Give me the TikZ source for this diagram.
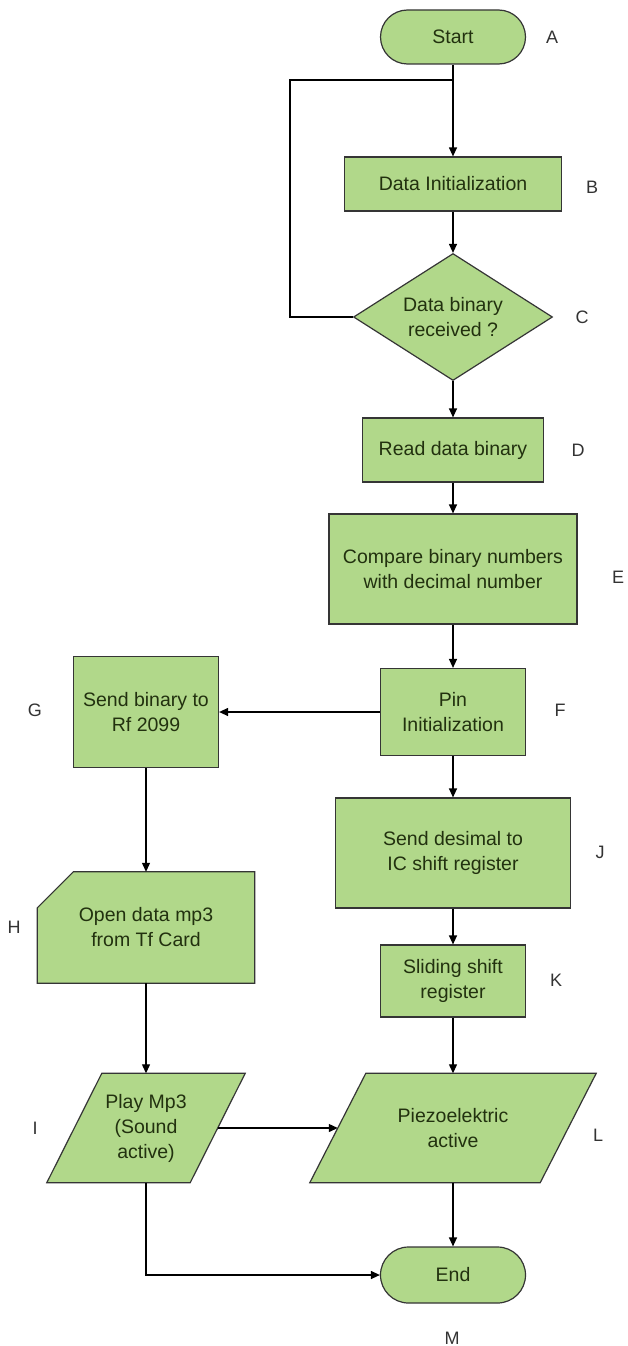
\documentclass[tikz,border=0pt]{standalone}
\usepackage{fontspec}
\setmainfont{Liberation Sans}
\usetikzlibrary{arrows.meta,shapes.geometric,backgrounds}
\definecolor{boxfill}{HTML}{B1D88A}
\definecolor{boxline}{HTML}{353535}
\definecolor{boxtext}{HTML}{22310F}
\definecolor{lbl}{HTML}{333333}
\tikzset{
  every node/.style={font=\fontsize{19.5}{25}\selectfont, text=boxtext},
  proc/.style={rectangle, draw=boxline, fill=boxfill, line width=1.2pt, inner sep=0pt, align=center},
  term/.style={rectangle, rounded corners=27pt, draw=boxline, fill=boxfill, line width=1.2pt, inner sep=0pt, align=center, minimum width=145pt},
  ghost/.style={rectangle, inner sep=0pt, align=center},
  shapeline/.style={draw=boxline, fill=boxfill, line width=1.2pt, line join=miter},
  dec/.style={diamond, draw=boxline, fill=boxfill, line width=1.2pt, inner sep=0pt, align=center, aspect=1.57},
  lab/.style={text=lbl, font=\fontsize{18}{22}\selectfont},
  arr/.style={draw=black, line width=1.2pt, -{Triangle[length=9pt,width=8pt]}},
  ln/.style={draw=black, line width=1.2pt}
}
\begin{document}
\begin{tikzpicture}[x=1pt,y=-1pt]
\useasboundingbox (0,0) rectangle (628,1346);

% nodes
\node[term, minimum height=54pt] (start) at (453,37) {Start};
\node[proc, minimum width=217pt, minimum height=54pt] (B) at (453,184) {Data Initialization};
\node[dec, minimum width=199pt, minimum height=127pt] (C) at (453,317) {Data binary\\received ?};
\node[proc, minimum width=181pt, minimum height=64pt] (D) at (453,450) {Read data binary};
\node[proc, minimum width=248pt, minimum height=110pt] (E) at (453,569) {Compare binary numbers\\with decimal number};
\node[proc, minimum width=145pt, minimum height=87pt] (F) at (453,712) {Pin\\Initialization};
\node[proc, minimum width=145pt, minimum height=111pt] (G) at (146,712) {Send binary to\\Rf 2099};
\node[ghost, minimum width=217pt, minimum height=111pt] (H) at (146,927.5) {Open data mp3\\from Tf Card};
\node[ghost, minimum width=143pt, minimum height=109pt] (I) at (146,1128) {Play Mp3\\(Sound\\active)};
\node[proc, minimum width=235pt, minimum height=110pt] (J) at (453,853) {Send desimal to\\IC shift register};
\node[proc, minimum width=145pt, minimum height=72pt] (K) at (453,981) {Sliding shift\\register};
\node[ghost, minimum width=230pt, minimum height=109pt] (L) at (453,1128) {Piezoelektric\\active};
\node[term, minimum height=56pt, rounded corners=28pt] (End) at (453,1275) {End};

% custom shapes behind text
\begin{scope}[on background layer]
\fill[white] (0,0) rectangle (628,1346);
\path[shapeline] (H.south west) -- ([yshift=-36pt]H.north west) -- ([xshift=36pt]H.north west) -- (H.north east) -- (H.south east) -- cycle;
\path[shapeline] ([xshift=27.5pt]I.north west) -- ([xshift=27.5pt]I.north east) -- ([xshift=-27.5pt]I.south east) -- ([xshift=-27.5pt]I.south west) -- cycle;
\path[shapeline] ([xshift=28pt]L.north west) -- ([xshift=28pt]L.north east) -- ([xshift=-28pt]L.south east) -- ([xshift=-28pt]L.south west) -- cycle;
\end{scope}

% labels
\node[lab] (lA) at (552,37) {A};
\node[lab] (lB) at (592,187) {B};
\node[lab] (lC) at (582,317) {C};
\node[lab] (lD) at (578,450) {D};
\node[lab] (lE) at (618,577) {E};
\node[lab] (lF) at (560,710) {F};
\node[lab] (lG) at (35,710) {G};
\node[lab] (lH) at (14,927) {H};
\node[lab] (lI) at (35,1128) {I};
\node[lab] (lJ) at (600,852) {J};
\node[lab] (lK) at (556,980) {K};
\node[lab] (lL) at (598,1135) {L};
\node[lab] (lM) at (452,1338) {M};

% connectors
\coordinate (join) at (453,80);
\coordinate (loopc) at (290,80);
\draw[arr] (start.south) -- (B.north);
\draw[ln] (C.west) -| (loopc) -- (join);
\draw[arr] (B.south) -- (C.north);
\draw[arr] (C.south) -- (D.north);
\draw[arr] (D.south) -- (E.north);
\draw[arr] (E.south) -- (F.north);
\draw[arr] (F.west) -- (G.east);
\draw[arr] (F.south) -- (J.north);
\draw[arr] (G.south) -- (H.north);
\draw[arr] (J.south) -- (K.north);
\draw[arr] (K.south) -- (L.north);
\draw[arr] (H.south) -- (I.north);
\draw[arr] (I.east) -- (L.west);
\draw[arr] (L.south) -- (End.north);
\draw[arr] (I.south) |- (End.west);
\end{tikzpicture}
\end{document}
